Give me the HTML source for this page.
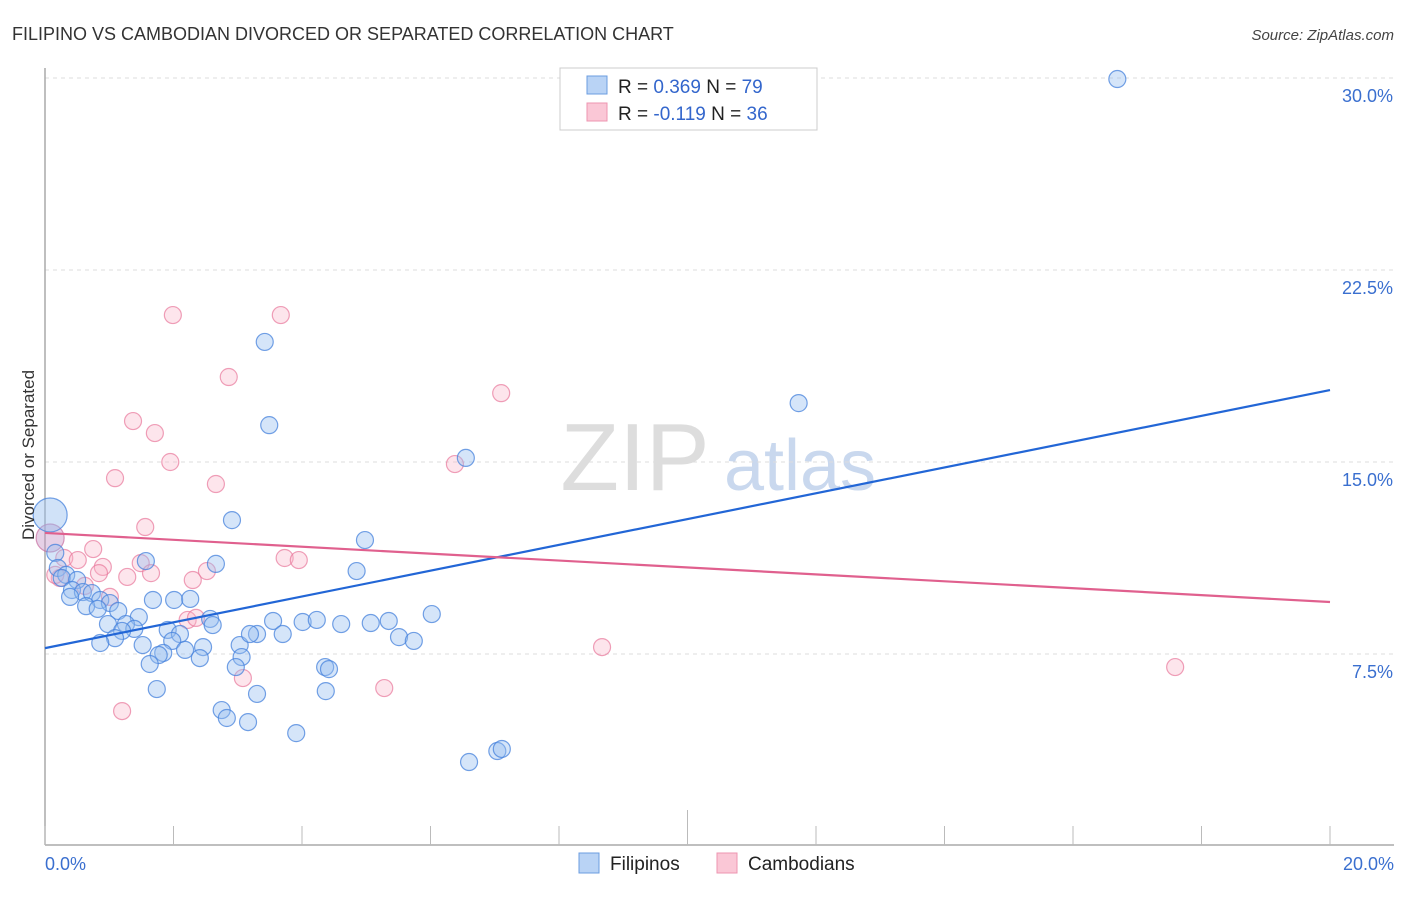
<!DOCTYPE html>
<html><head><meta charset="utf-8"><style>
body{margin:0;background:#fff;font-family:"Liberation Sans",sans-serif}
svg text{font-family:"Liberation Sans",sans-serif}
</style></head><body>
<svg width="1406" height="892" viewBox="0 0 1406 892" xmlns="http://www.w3.org/2000/svg">
<text x="12" y="40" font-size="18" fill="#333">FILIPINO VS CAMBODIAN DIVORCED OR SEPARATED CORRELATION CHART</text>
<text x="1394" y="40" font-size="15" fill="#444" text-anchor="end" font-style="italic">Source: ZipAtlas.com</text>
<g>
<text x="635" y="490" font-size="96" fill="#ddd" font-family="Liberation Serif" text-anchor="middle">ZIP</text>
<text x="800" y="490" font-size="72" fill="#c9d8ee" text-anchor="middle">atlas</text>
</g>
<g id="grid"></g>
<g id="axes"></g>
<g id="marks"></g>
<text transform="translate(34,455) rotate(-90)" font-size="17" fill="#333" text-anchor="middle">Divorced or Separated</text>
<g>
<rect x="560" y="68" width="257" height="62" fill="#fff" stroke="#ccc"/>
<rect x="587" y="76" width="20" height="18" fill="#b9d3f5" stroke="#6b9de0"/>
<rect x="587" y="103" width="20" height="18" fill="#fac7d6" stroke="#ee94b0"/>
<text x="618" y="93" font-size="19" fill="#222">R = <tspan fill="#3366cc">0.369</tspan>   N = <tspan fill="#3366cc">79</tspan></text>
<text x="618" y="120" font-size="19" fill="#222">R = <tspan fill="#3366cc">-0.119</tspan>   N = <tspan fill="#3366cc">36</tspan></text>
</g>
<g>
<rect x="579" y="853" width="20" height="20" fill="#b9d3f5" stroke="#6b9de0"/>
<text x="610" y="870" font-size="19" fill="#222">Filipinos</text>
<rect x="717" y="853" width="20" height="20" fill="#fac7d6" stroke="#ee94b0"/>
<text x="748" y="870" font-size="19" fill="#222">Cambodians</text>
</g>
</svg>
<script>
const yTicks=[7.5,15,22.5,30];
const yTickLabels=["7.5%","15.0%","22.5%","30.0%"];
const xTickLabels=["0.0%","20.0%"];
const filX=[16.69,3.42,3.49,11.73,6.55,2.91,4.98,1.57,2.66,4.85,0.16,0.20,0.33,0.26,0.50,0.42,0.59,0.73,0.39,0.86,0.64,1.01,1.14,0.82,1.68,2.01,2.26,1.46,0.98,1.26,1.39,1.20,1.09,0.86,1.52,1.91,2.10,1.98,2.18,1.84,1.77,1.63,2.46,2.41,2.57,2.61,3.03,3.30,3.19,3.06,2.97,1.74,3.30,2.75,2.83,3.16,3.55,3.70,4.01,4.23,4.61,5.07,5.35,5.51,5.74,6.02,4.36,4.42,4.37,3.91,6.60,7.04,7.11];
const filY=[29.96,19.69,16.44,17.30,15.16,12.73,11.95,11.13,11.02,10.74,11.45,10.86,10.59,10.47,10.39,10.0,9.92,9.88,9.73,9.61,9.37,9.49,9.18,9.26,9.61,9.61,9.65,8.94,8.67,8.67,8.48,8.40,8.12,7.93,7.85,8.44,8.28,8.01,7.66,7.54,7.46,7.11,7.77,7.34,8.87,8.63,7.85,8.28,8.28,7.38,6.99,6.13,5.94,5.31,5.0,4.84,8.79,8.28,8.75,8.83,8.67,8.71,8.79,8.16,8.01,9.06,6.99,6.91,6.05,4.41,3.28,3.71,3.79];
const camX=[1.99,3.67,2.86,7.10,1.37,1.71,1.95,6.38,1.09,2.66,1.56,0.75,3.73,3.95,0.30,0.51,0.90,1.49,1.65,2.52,0.84,1.28,2.30,0.62,0.23,1.01,2.22,2.35,8.67,17.59,3.08,5.28,1.20,0.16];
const camY=[20.74,20.74,18.32,17.69,16.60,16.13,15.0,14.92,14.37,14.14,12.46,11.60,11.25,11.17,11.25,11.17,10.90,11.05,10.66,10.74,10.66,10.51,10.39,10.16,10.47,9.73,8.83,8.91,7.77,6.99,6.56,6.17,5.27,10.59];
const bigFil=[[0.08,12.93]], bigCam=[[0.08,12.03]];
const filTrend=[7.73,17.81], camTrend=[12.23,9.53];
const NS="http://www.w3.org/2000/svg";
const X0=45,X1=1330,Y0=846;
const xs=v=>X0+(v/20)*(X1-X0);
const ys=v=>Y0-v*25.6;
function mk(parent,tag,attrs){const e=document.createElementNS(NS,tag);for(const k in attrs)e.setAttribute(k,attrs[k]);document.getElementById(parent).appendChild(e);return e;}
yTicks.forEach((t,i)=>{
 const l=mk('grid','line',{x1:X0,x2:1394,y1:ys(t),y2:ys(t),stroke:'#ddd','stroke-dasharray':'4,4'});
 
 
 const tx=mk('grid','text',{x:1393,y:ys(t)+24,'font-size':18,fill:'#3a6fcf','text-anchor':'end'});tx.textContent=yTickLabels[i];
 
 
});
const ax=mk('axes','line',{x1:X0,x2:1394,y1:845,y2:845,stroke:'#aaa','stroke-width':1.5});


const ay=mk('axes','line',{x1:X0,x2:X0,y1:68,y2:845,stroke:'#aaa','stroke-width':1.5});


for(let i=0;i<=10;i++){const x=xs(i*2);const t=mk('axes','line',{x1:x,x2:x,y1:i==5?810:826,y2:845,stroke:'#bbb'});
 
 }
[[0,'start',45],[1,'end',1394]].forEach(([i,a,x])=>{const t=mk('axes','text',{x:x,y:870,'font-size':18,fill:'#3a6fcf','text-anchor':a});t.textContent=xTickLabels[i];
 
 });
function dot(x,y,r,f,s,name){const c=mk('marks','circle',{cx:xs(x),cy:ys(y),r:r,fill:f,stroke:s,'stroke-width':1.2});
 
 }
camX.forEach((x,i)=>dot(x,camY[i],8.5,'rgba(248,180,200,0.35)','rgba(232,120,155,0.7)','cambodian-point'));
bigCam.forEach(p=>dot(p[0],p[1],14,'rgba(200,150,200,0.45)','rgba(200,110,160,0.7)','cambodian-point'));
filX.forEach((x,i)=>dot(x,filY[i],8.5,'rgba(150,190,240,0.4)','rgba(70,130,220,0.75)','filipino-point'));
bigFil.forEach(p=>dot(p[0],p[1],17,'rgba(150,190,240,0.45)','rgba(70,130,220,0.75)','filipino-point'));
const tb=mk('marks','line',{x1:xs(0),y1:ys(filTrend[0]),x2:xs(20),y2:ys(filTrend[1]),stroke:'#2266d6','stroke-width':2.2});


const tp=mk('marks','line',{x1:xs(0),y1:ys(camTrend[0]),x2:xs(20),y2:ys(camTrend[1]),stroke:'#e0608e','stroke-width':2.2});


</script>
</body></html>
